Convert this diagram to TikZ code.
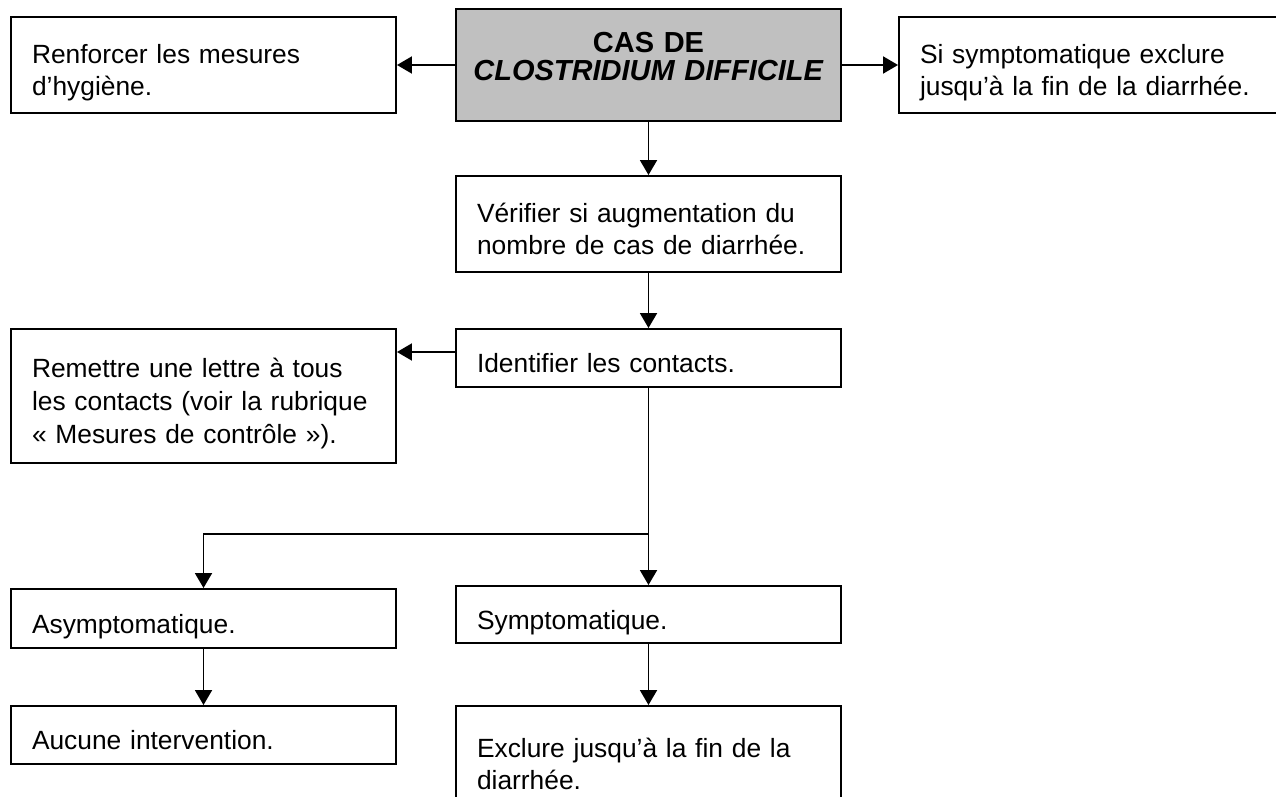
\documentclass[tikz,border=0pt]{standalone}
\usepackage{fontspec}
\setmainfont{Liberation Sans}
\usepackage{xcolor}
\usepackage{tikz}
\usetikzlibrary{shapes}
\usetikzlibrary{arrows.meta}
\definecolor{casegray}{HTML}{C0C0C0}
\tikzset{ step_box/.style = {rectangle, draw, line width=1.1pt, text width=6.86cm, inner xsep=0.42cm, inner ysep=0pt, align=left, font=\fontsize{15}{18.5}\selectfont, execute at begin node={\rule{0pt}{0.72cm}}, execute at end node={\rule[-0.14cm]{0pt}{0pt}}} }
\tikzset{ case_box/.style = {rectangle, draw, line width=1.1pt, fill=casegray, text width=7.4cm, inner xsep=0.15cm, inner ysep=0pt, align=center, font=\fontsize{16.5}{15.4}\selectfont\bfseries, execute at begin node={\rule{0pt}{0.46cm}}, execute at end node={\rule[-0.40cm]{0pt}{0pt}}} }
\tikzset{ flow_arrow/.style = {line width=1.1pt, -{Triangle[length=0.30cm, width=0.34cm]}} }

\begin{document}
\begin{tikzpicture}
\useasboundingbox (0,0) rectangle (25.52,-15.94);
\node[case_box, minimum height=2.24cm] (case) at (12.97,-1.30) {CAS DE\\ \textit{CLOSTRIDIUM DIFFICILE}};
\node[step_box, minimum height=1.92cm] (hygiene) at (4.07,-1.30) {Renforcer les mesures\\ d’hygiène.};
\node[step_box, minimum height=1.92cm] (exclude_top) at (21.83,-1.30) {Si symptomatique exclure\\ jusqu’à la fin de la diarrhée.};
\node[step_box, minimum height=1.92cm] (check) at (12.97,-4.48) {Vérifier si augmentation du\\ nombre de cas de diarrhée.};
\node[step_box, minimum height=1.16cm] (contacts) at (12.97,-7.16) {Identifier les contacts.};
\node[step_box, minimum height=2.68cm] (letter) at (4.07,-7.92) {Remettre une lettre à tous\\ les contacts (voir la rubrique\\ «~Mesures de contrôle~»).};
\node[step_box, minimum height=1.18cm] (asympt) at (4.07,-12.37) {Asymptomatique.};
\node[step_box, minimum height=1.14cm] (sympt) at (12.97,-12.29) {Symptomatique.};
\node[step_box, minimum height=1.16cm] (none) at (4.07,-14.70) {Aucune intervention.};
\node[step_box, minimum height=2.12cm] (exclude) at (12.97,-15.18) {Exclure jusqu’à la fin de la\\ diarrhée.};
\coordinate (split) at (12.97,-10.68);
\draw[flow_arrow] (case) -- (hygiene);
\draw[flow_arrow] (case) -- (exclude_top);
\draw[flow_arrow] (case) -- (check);
\draw[flow_arrow] (check) -- (contacts);
\draw[flow_arrow] ([yshift=0.12cm]contacts.west) -- ([yshift=0.12cm]contacts.west -| letter.east);
\draw[flow_arrow] (contacts) -- (sympt);
\draw[flow_arrow] (split) -| (asympt);
\draw[flow_arrow] (asympt) -- (none);
\draw[flow_arrow] (sympt) -- (exclude);
\end{tikzpicture}
\end{document}
